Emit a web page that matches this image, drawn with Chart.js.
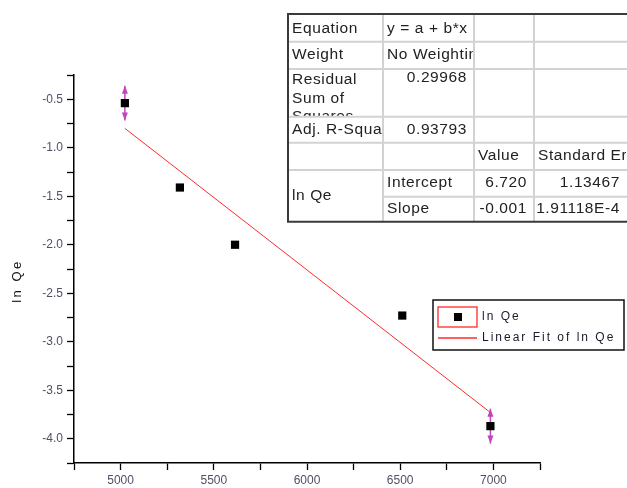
<!DOCTYPE html>
<html>
<head>
<meta charset="utf-8">
<script src="https://cdn.jsdelivr.net/npm/chart.js@4"></script>
<style>
  html, body { margin: 0; padding: 0; background: #fff; }
  #wrap { width: 627px; height: 488px; }
</style>
</head>
<body>
<div id="wrap"><canvas id="chart" width="627" height="488"></canvas></div>
<script>
// --- Data ---
const xValues = [5023, 5318, 5614, 6511, 6984];
const lnQe = [-0.54, -1.41, -2.00, -2.73, -3.87];
const errSize = [0.18, 0, 0, 0, 0.18];
const fitX = [5023, 6984];
const fitY = [-0.80, -3.73];

const seriesLabel = 'ln Qe';
const fitLabel = 'Linear Fit of ln Qe';
const yTitle = 'ln Qe';

// fit report table (rows of cells)
const tableRows = [
  ['Equation', 'y = a + b*x', '', ''],
  ['Weight', 'No Weighting', '', ''],
  ['Residual\nSum of\nSquares', '0.29968', '', ''],
  ['Adj. R-Square', '0.93793', '', ''],
  ['', '', 'Value', 'Standard Error'],
  ['ln Qe', 'Intercept', '6.720', '1.13467'],
  ['', 'Slope', '-0.001', '1.91118E-4']
];

const RED = '#ff2a2a';
const MAGENTA = '#c045c0';
const FONT = '"Liberation Sans", Arial, sans-serif';

// --- Error bars with arrow heads ---
const errorBars = {
  id: 'errorBars',
  beforeDatasetsDraw(chart) {
    const { ctx, scales: { x, y } } = chart;
    ctx.save();
    ctx.strokeStyle = MAGENTA;
    ctx.fillStyle = MAGENTA;
    ctx.lineWidth = 1.5;
    xValues.forEach((xv, i) => {
      if (!errSize[i]) return;
      const px = x.getPixelForValue(xv);
      const top = y.getPixelForValue(lnQe[i] + errSize[i]);
      const bot = y.getPixelForValue(lnQe[i] - errSize[i]);
      ctx.beginPath();
      ctx.moveTo(px, top);
      ctx.lineTo(px, bot);
      ctx.stroke();
      // arrows pointing outward
      ctx.beginPath();
      ctx.moveTo(px, top);
      ctx.lineTo(px - 3, top + 8);
      ctx.lineTo(px + 3, top + 8);
      ctx.closePath();
      ctx.fill();
      ctx.beginPath();
      ctx.moveTo(px, bot);
      ctx.lineTo(px - 3, bot - 8);
      ctx.lineTo(px + 3, bot - 8);
      ctx.closePath();
      ctx.fill();
    });
    ctx.restore();
  }
};

// --- Axis title, legend box and fit table ---
const overlay = {
  id: 'overlay',
  afterDraw(chart) {
    const ctx = chart.ctx;
    ctx.save();

    // y axis title
    ctx.save();
    ctx.translate(17, 281);
    ctx.rotate(-Math.PI / 2);
    ctx.font = '13px ' + FONT;
    ctx.letterSpacing = '2.5px';
    ctx.fillStyle = '#111';
    ctx.textAlign = 'center';
    ctx.textBaseline = 'middle';
    ctx.fillText(yTitle, 0, 0);
    ctx.restore();

    // legend
    ctx.fillStyle = '#fff';
    ctx.fillRect(433, 300, 191, 50);
    ctx.strokeStyle = '#111';
    ctx.lineWidth = 1.5;
    ctx.strokeRect(433, 300, 191, 50);
    ctx.strokeStyle = RED;
    ctx.lineWidth = 1.3;
    ctx.strokeRect(438, 307, 39, 20);
    ctx.fillStyle = '#000';
    ctx.fillRect(454, 313, 8, 8);
    ctx.beginPath();
    ctx.moveTo(438, 338);
    ctx.lineTo(477, 338);
    ctx.stroke();
    ctx.fillStyle = '#1a1a2a';
    ctx.font = '12px ' + FONT;
    ctx.textBaseline = 'middle';
    ctx.letterSpacing = '2px';
    ctx.fillText(seriesLabel, 482, 317);
    ctx.fillText(fitLabel, 482, 338);
    ctx.letterSpacing = '0px';

    // table
    const colX = [288, 383, 474, 534, 627];
    const rowY = [14, 41.7, 69, 116.7, 142.7, 170, 196.7, 221.7];
    ctx.fillStyle = '#fff';
    ctx.fillRect(288, 14, 339, 208);

    ctx.lineWidth = 2;
    ctx.strokeStyle = '#d2d2d2';
    for (let r = 1; r < rowY.length - 1; r++) {
      ctx.beginPath();
      // merged cell for the last two rows in first column
      const x0 = r === 6 ? colX[1] : colX[0];
      ctx.moveTo(x0, rowY[r]);
      ctx.lineTo(627, rowY[r]);
      ctx.stroke();
    }
    for (let c = 1; c < colX.length - 1; c++) {
      ctx.beginPath();
      ctx.moveTo(colX[c], rowY[0]);
      ctx.lineTo(colX[c], rowY[7]);
      ctx.stroke();
    }
    ctx.strokeStyle = '#3a3a3a';
    ctx.beginPath();
    ctx.moveTo(627, rowY[0]);
    ctx.lineTo(colX[0], rowY[0]);
    ctx.lineTo(colX[0], rowY[7]);
    ctx.lineTo(627, rowY[7]);
    ctx.stroke();

    ctx.font = '15.5px ' + FONT;
    ctx.letterSpacing = '0.6px';
    ctx.fillStyle = '#222';
    const rightAligned = (c, r) => (c >= 2 && r !== 4) || (c === 1 && (r === 2 || r === 3));
    const textY = [29, 55, 80, 130, 156, 183, 209];
    tableRows.forEach((row, r) => {
      row.forEach((txt, c) => {
        if (!txt) return;
        ctx.save();
        ctx.beginPath();
        const bottom = r === 5 && c === 0 ? rowY[7] : rowY[r + 1];
        ctx.rect(colX[c] + 1, rowY[r] + 1, colX[c + 1] - colX[c] - 2, bottom - rowY[r] - 2);
        ctx.clip();
        let ty = textY[r];
        if (r === 5 && c === 0) ty = 196;
        if (r === 2 && c === 1) ty = 78;
        const lines = txt.split('\n');
        lines.forEach((ln, k) => {
          if (rightAligned(c, r)) {
            ctx.textAlign = 'right';
            ctx.fillText(ln, colX[c + 1] - 7, ty + k * 18.5);
          } else {
            ctx.textAlign = 'left';
            ctx.fillText(ln, colX[c] + 4, ty + k * 18.5);
          }
        });
        ctx.restore();
      });
    });
    ctx.restore();
  }
};

const tickFont = { family: FONT, size: 12 };

new Chart(document.getElementById('chart'), {
  type: 'scatter',
  data: {
    datasets: [
      {
        label: seriesLabel,
        data: xValues.map((x, i) => ({ x, y: lnQe[i] })),
        pointStyle: 'rect',
        pointRadius: 5.8,
        backgroundColor: '#000',
        borderColor: '#000',
        borderWidth: 0
      },
      {
        label: fitLabel,
        type: 'line',
        data: fitX.map((x, i) => ({ x, y: fitY[i] })),
        borderColor: RED,
        borderWidth: 1,
        pointRadius: 0,
        fill: false
      }
    ]
  },
  options: {
    responsive: false,
    animation: false,
    layout: { padding: { top: 75, right: 87, left: 0, bottom: 0 } },
    plugins: { legend: { display: false }, tooltip: { enabled: false } },
    scales: {
      x: {
        type: 'linear',
        min: 4750,
        max: 7250,
        afterFit(scale) { scale.height = 25; },
        grid: { drawOnChartArea: false, drawTicks: true, tickLength: 7, color: '#000', tickWidth: 1.3 },
        border: { display: true, color: '#000', width: 1.5 },
        ticks: {
          stepSize: 250,
          autoSkip: false,
          maxRotation: 0,
          padding: 3,
          color: '#505064',
          font: tickFont,
          callback: v => (v % 500 === 0 ? String(v) : '')
        }
      },
      y: {
        type: 'linear',
        min: -4.25,
        max: -0.25,
        afterFit(scale) { scale.width = 74; },
        grid: { drawOnChartArea: false, drawTicks: true, tickLength: 7, color: '#000', tickWidth: 1.3 },
        border: { display: true, color: '#000', width: 1.5 },
        ticks: {
          stepSize: 0.25,
          autoSkip: false,
          padding: 4,
          color: '#505064',
          font: tickFont,
          callback: v => (Math.abs(v * 2 - Math.round(v * 2)) < 1e-6 ? v.toFixed(1) : '')
        }
      }
    }
  },
  plugins: [errorBars, overlay]
});
</script>
</body>
</html>
